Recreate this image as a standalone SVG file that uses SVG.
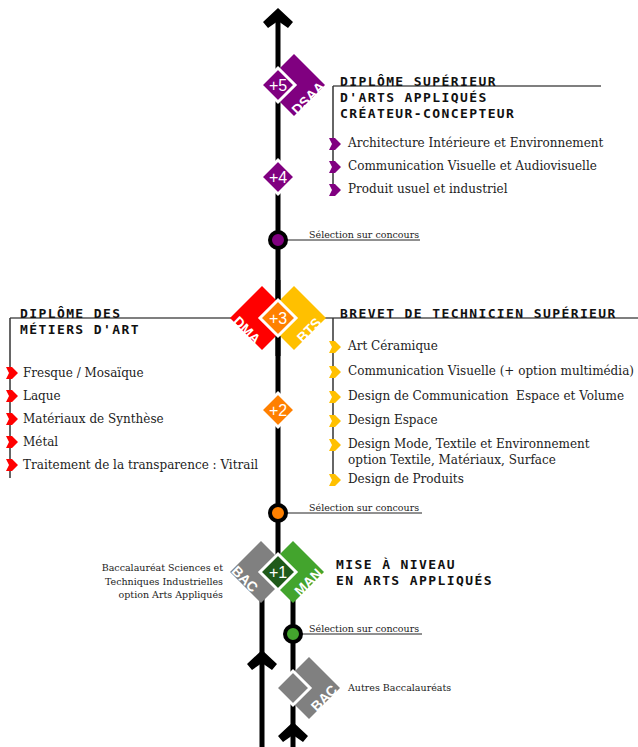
<svg xmlns="http://www.w3.org/2000/svg" width="638" height="747" viewBox="0 0 638 747">
<style>
.hd{font-family:"DejaVu Sans Mono","Liberation Mono",monospace;font-weight:bold;font-size:13px;letter-spacing:1.4px;fill:#111}
.it{font-family:"DejaVu Serif","Liberation Serif",serif;font-size:12px;fill:#222}
.sm{font-family:"DejaVu Serif","Liberation Serif",serif;font-size:9.5px;fill:#222}
.num{font-family:"Liberation Sans",Arial,sans-serif;font-size:16px;fill:#fff;text-anchor:middle}
.tag{font-family:"Liberation Sans",Arial,sans-serif;font-weight:bold;font-size:14px;fill:#fff;text-anchor:middle}
.rule{stroke:#555;stroke-width:1.5;fill:none}
.vr{stroke:#333;stroke-width:1.5;fill:none}
.main{stroke:#000;stroke-width:5;fill:none}
.sel{stroke:#222;stroke-width:1;fill:none}
.ring{stroke:#000;stroke-width:4}
.badge{stroke:#fff;stroke-width:3}
</style>
<defs>
<polygon id="bul" points="-4,-6 2,-6 8,0 2,6 -4,6 -1,0"/>
<polygon id="chev" points="0,0 15,14 10,20 0,13 -10,20 -15,14"/>
</defs>

<g id="connectors">
<path class="main" d="M278,14 V556"/>
<path class="main" d="M262,598 V747"/>
<path class="main" d="M293,598 V747"/>
<use href="#chev" transform="translate(278,8)" fill="#000"/>
<use href="#chev" transform="translate(262,650)" fill="#000"/>
<use href="#chev" transform="translate(293,722)" fill="#000"/>
<path class="sel" d="M286,240 H420"/>
<path class="sel" d="M286,513 H422"/>
<path class="sel" d="M301,634 H422"/>
</g>

<g id="rules">
<path class="rule" d="M333,86 H601"/>
<path class="vr" d="M333,86 V196"/>
<path class="rule" d="M10,318 H638"/>
<path class="vr" d="M10,318 V478"/>
<path class="vr" d="M333,318 V484"/>
</g>

<g id="dsaa">
<path d="M294,54 L325,85 L294,116 L263,85 Z" fill="#800080"/>
<path class="badge" d="M278,68 L295,85 L278,102 L261,85 Z" fill="#800080"/>
<text class="num" x="278" y="91">+5</text>
<text class="tag" transform="translate(308,98) rotate(-45)" y="5">DSAA</text>
<text class="hd" x="340" y="86">DIPLÔME SUPÉRIEUR</text>
<text class="hd" x="340" y="102">D'ARTS APPLIQUÉS</text>
<text class="hd" x="340" y="118">CRÉATEUR-CONCEPTEUR</text>
<use href="#bul" x="333" y="144" fill="#800080"/>
<use href="#bul" x="333" y="167" fill="#800080"/>
<use href="#bul" x="333" y="190" fill="#800080"/>
<text class="it" x="348" y="147">Architecture Intérieure et Environnement</text>
<text class="it" x="348" y="170">Communication Visuelle et Audiovisuelle</text>
<text class="it" x="348" y="193">Produit usuel et industriel</text>
</g>

<g id="plus4">
<path class="badge" d="M278,160 L295,177 L278,194 L261,177 Z" fill="#800080"/>
<text class="num" x="278" y="183">+4</text>
</g>

<g id="selection-dsaa">
<circle class="ring" cx="278" cy="240" r="8" fill="#800080"/>
<text class="sm" x="309" y="238">Sélection sur concours</text>
</g>

<g id="dma-bts">
<path d="M262,286 L294,318 L262,350 L230,318 Z" fill="#ff0000"/>
<path d="M294,286 L326,318 L294,350 L262,318 Z" fill="#ffc000"/>
<path class="main" d="M278,280 V300 M278,336 V356"/>
<path class="badge" d="M278,300 L296,318 L278,336 L260,318 Z" fill="#ff8000"/>
<text class="num" x="278" y="324">+3</text>
<text class="tag" transform="translate(247,330) rotate(45)" y="5">DMA</text>
<text class="tag" transform="translate(309,330) rotate(-45)" y="5">BTS</text>
<text class="hd" x="20" y="318">DIPLÔME DES</text>
<text class="hd" x="20" y="334">MÉTIERS D'ART</text>
<use href="#bul" x="10" y="373" fill="#ff0000"/>
<use href="#bul" x="10" y="396" fill="#ff0000"/>
<use href="#bul" x="10" y="419" fill="#ff0000"/>
<use href="#bul" x="10" y="442" fill="#ff0000"/>
<use href="#bul" x="10" y="465" fill="#ff0000"/>
<text class="it" x="23" y="377">Fresque / Mosaïque</text>
<text class="it" x="23" y="400">Laque</text>
<text class="it" x="23" y="423">Matériaux de Synthèse</text>
<text class="it" x="23" y="446">Métal</text>
<text class="it" x="23" y="469">Traitement de la transparence : Vitrail</text>
<text class="hd" x="340" y="318">BREVET DE TECHNICIEN SUPÉRIEUR</text>
<use href="#bul" x="333" y="347" fill="#ffc000"/>
<use href="#bul" x="333" y="372" fill="#ffc000"/>
<use href="#bul" x="333" y="397" fill="#ffc000"/>
<use href="#bul" x="333" y="421" fill="#ffc000"/>
<use href="#bul" x="333" y="445" fill="#ffc000"/>
<use href="#bul" x="333" y="480" fill="#ffc000"/>
<text class="it" x="348" y="350">Art Céramique</text>
<text class="it" x="348" y="375">Communication Visuelle (+ option multimédia)</text>
<text class="it" x="348" y="400" xml:space="preserve">Design de Communication  Espace et Volume</text>
<text class="it" x="348" y="424">Design Espace</text>
<text class="it" x="348" y="448">Design Mode, Textile et Environnement</text>
<text class="it" x="348" y="464">option Textile, Matériaux, Surface</text>
<text class="it" x="348" y="483">Design de Produits</text>
</g>

<g id="plus2">
<path class="badge" d="M278,393 L295,410 L278,427 L261,410 Z" fill="#ff8000"/>
<text class="num" x="278" y="416">+2</text>
</g>

<g id="selection-dma-bts">
<circle class="ring" cx="278" cy="513" r="8" fill="#ff8000"/>
<text class="sm" x="309" y="511">Sélection sur concours</text>
</g>

<g id="bac-man">
<path d="M261,541 L292,572 L261,603 L230,572 Z" fill="#808080"/>
<path d="M293,541 L324,572 L293,603 L262,572 Z" fill="#43a42d"/>
<path class="badge" d="M278,554 L296,572 L278,590 L260,572 Z" fill="#1f5a1a"/>
<text class="num" x="278" y="578">+1</text>
<text class="tag" transform="translate(245,579) rotate(45)" y="5">BAC</text>
<text class="tag" transform="translate(308,582) rotate(-45)" y="5">MAN</text>
<text class="sm" x="223" y="571" text-anchor="end">Baccalauréat Sciences et</text>
<text class="sm" x="223" y="585" text-anchor="end">Techniques Industrielles</text>
<text class="sm" x="223" y="598" text-anchor="end">option Arts Appliqués</text>
<text class="hd" x="336" y="569">MISE À NIVEAU</text>
<text class="hd" x="336" y="585">EN ARTS APPLIQUÉS</text>
</g>

<g id="selection-man">
<circle class="ring" cx="293" cy="634" r="8" fill="#43a42d"/>
<text class="sm" x="309" y="632">Sélection sur concours</text>
</g>

<g id="autres-bac">
<path d="M309,657 L340,688 L309,719 L278,688 Z" fill="#808080"/>
<path class="badge" d="M293,671 L310,688 L293,705 L276,688 Z" fill="#808080"/>
<text class="tag" transform="translate(324,698) rotate(-45)" y="5">BAC</text>
<text class="sm" x="348" y="691">Autres Baccalauréats</text>
</g>
</svg>
